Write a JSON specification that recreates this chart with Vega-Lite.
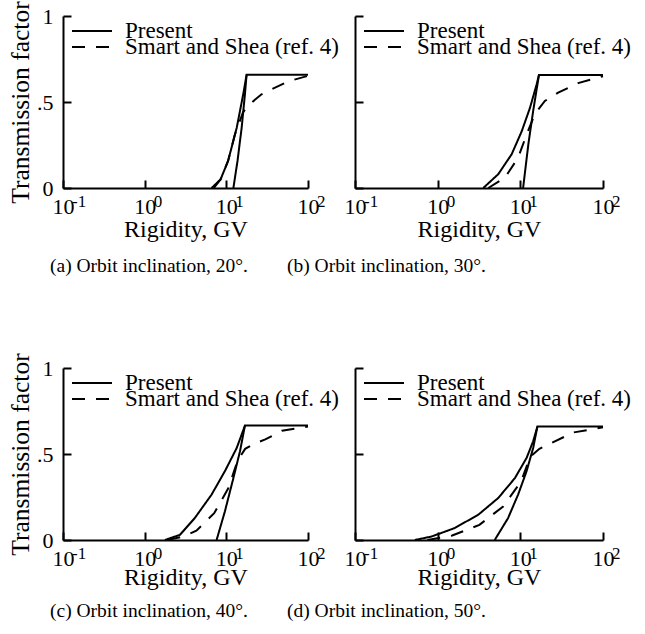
{
  "$schema": "https://vega.github.io/schema/vega-lite/v6.json",
  "padding": {"left": 8, "top": 0, "right": 0, "bottom": 0},
  "background": "white",
  "config": {
    "font": "Liberation Serif",
    "view": {"stroke": null},
    "axis": {"domainColor": "black", "domainWidth": 2, "tickColor": "black", "tickWidth": 2, "labelColor": "black", "titleColor": "black", "grid": false, "labelFont": "Liberation Serif", "titleFont": "Liberation Serif", "titleFontWeight": "normal", "labelFlush": false, "labelOverlap": false},
    "title": {"font": "Liberation Serif", "fontWeight": "normal", "fontSize": 19.5, "color": "black"},
    "legend": {"symbolType": "stroke", "symbolSize": 1600, "symbolStrokeWidth": 2, "symbolStrokeColor": "black", "labelFont": "Liberation Serif", "labelFontSize": 23, "labelColor": "black", "labelOffset": 12, "rowPadding": -12, "clipHeight": 8, "padding": 0, "labelLimit": 0}
  },
  "datasets": {
    "curves": [
      {"panel": "a", "series": "Present", "branch": "L", "rigidity": 6.6, "factor": 0},
      {"panel": "a", "series": "Present", "branch": "L", "rigidity": 8.5, "factor": 0.05},
      {"panel": "a", "series": "Present", "branch": "L", "rigidity": 10.5, "factor": 0.157},
      {"panel": "a", "series": "Present", "branch": "L", "rigidity": 13.4, "factor": 0.35},
      {"panel": "a", "series": "Present", "branch": "L", "rigidity": 16.1, "factor": 0.545},
      {"panel": "a", "series": "Present", "branch": "L", "rigidity": 17.7, "factor": 0.658},
      {"panel": "a", "series": "Present", "branch": "R", "rigidity": 12.2, "factor": 0},
      {"panel": "a", "series": "Present", "branch": "R", "rigidity": 13.7, "factor": 0.157},
      {"panel": "a", "series": "Present", "branch": "R", "rigidity": 15.4, "factor": 0.35},
      {"panel": "a", "series": "Present", "branch": "R", "rigidity": 16.9, "factor": 0.545},
      {"panel": "a", "series": "Present", "branch": "R", "rigidity": 17.7, "factor": 0.658},
      {"panel": "a", "series": "Present", "branch": "R", "rigidity": 100, "factor": 0.658},
      {"panel": "a", "series": "Smart and Shea (ref. 4)", "branch": "S", "rigidity": 7.0, "factor": 0},
      {"panel": "a", "series": "Smart and Shea (ref. 4)", "branch": "S", "rigidity": 8.5, "factor": 0.05},
      {"panel": "a", "series": "Smart and Shea (ref. 4)", "branch": "S", "rigidity": 10.5, "factor": 0.157},
      {"panel": "a", "series": "Smart and Shea (ref. 4)", "branch": "S", "rigidity": 12.7, "factor": 0.31},
      {"panel": "a", "series": "Smart and Shea (ref. 4)", "branch": "S", "rigidity": 16, "factor": 0.44},
      {"panel": "a", "series": "Smart and Shea (ref. 4)", "branch": "S", "rigidity": 18.5, "factor": 0.48},
      {"panel": "a", "series": "Smart and Shea (ref. 4)", "branch": "S", "rigidity": 27, "factor": 0.545},
      {"panel": "a", "series": "Smart and Shea (ref. 4)", "branch": "S", "rigidity": 57, "factor": 0.62},
      {"panel": "a", "series": "Smart and Shea (ref. 4)", "branch": "S", "rigidity": 100, "factor": 0.652},

      {"panel": "b", "series": "Present", "branch": "L", "rigidity": 3.56, "factor": 0},
      {"panel": "b", "series": "Present", "branch": "L", "rigidity": 5.4, "factor": 0.08},
      {"panel": "b", "series": "Present", "branch": "L", "rigidity": 7.85, "factor": 0.196},
      {"panel": "b", "series": "Present", "branch": "L", "rigidity": 10.4, "factor": 0.33},
      {"panel": "b", "series": "Present", "branch": "L", "rigidity": 13.1, "factor": 0.467},
      {"panel": "b", "series": "Present", "branch": "L", "rigidity": 15.7, "factor": 0.6},
      {"panel": "b", "series": "Present", "branch": "L", "rigidity": 16.8, "factor": 0.657},
      {"panel": "b", "series": "Present", "branch": "R", "rigidity": 10.8, "factor": 0},
      {"panel": "b", "series": "Present", "branch": "R", "rigidity": 12.5, "factor": 0.254},
      {"panel": "b", "series": "Present", "branch": "R", "rigidity": 14.3, "factor": 0.448},
      {"panel": "b", "series": "Present", "branch": "R", "rigidity": 16.8, "factor": 0.657},
      {"panel": "b", "series": "Present", "branch": "R", "rigidity": 100, "factor": 0.657},
      {"panel": "b", "series": "Smart and Shea (ref. 4)", "branch": "S", "rigidity": 4.1, "factor": 0},
      {"panel": "b", "series": "Smart and Shea (ref. 4)", "branch": "S", "rigidity": 6.5, "factor": 0.06},
      {"panel": "b", "series": "Smart and Shea (ref. 4)", "branch": "S", "rigidity": 9.4, "factor": 0.176},
      {"panel": "b", "series": "Smart and Shea (ref. 4)", "branch": "S", "rigidity": 11.9, "factor": 0.31},
      {"panel": "b", "series": "Smart and Shea (ref. 4)", "branch": "S", "rigidity": 15, "factor": 0.43},
      {"panel": "b", "series": "Smart and Shea (ref. 4)", "branch": "S", "rigidity": 19.8, "factor": 0.506},
      {"panel": "b", "series": "Smart and Shea (ref. 4)", "branch": "S", "rigidity": 28.7, "factor": 0.554},
      {"panel": "b", "series": "Smart and Shea (ref. 4)", "branch": "S", "rigidity": 50, "factor": 0.61},
      {"panel": "b", "series": "Smart and Shea (ref. 4)", "branch": "S", "rigidity": 100, "factor": 0.65},

      {"panel": "c", "series": "Present", "branch": "L", "rigidity": 1.77, "factor": 0},
      {"panel": "c", "series": "Present", "branch": "L", "rigidity": 2.7, "factor": 0.03},
      {"panel": "c", "series": "Present", "branch": "L", "rigidity": 4.1, "factor": 0.127},
      {"panel": "c", "series": "Present", "branch": "L", "rigidity": 6.6, "factor": 0.264},
      {"panel": "c", "series": "Present", "branch": "L", "rigidity": 9.6, "factor": 0.4},
      {"panel": "c", "series": "Present", "branch": "L", "rigidity": 13.4, "factor": 0.535},
      {"panel": "c", "series": "Present", "branch": "L", "rigidity": 16.9, "factor": 0.665},
      {"panel": "c", "series": "Present", "branch": "R", "rigidity": 7.6, "factor": 0},
      {"panel": "c", "series": "Present", "branch": "R", "rigidity": 9.6, "factor": 0.166},
      {"panel": "c", "series": "Present", "branch": "R", "rigidity": 12.2, "factor": 0.36},
      {"panel": "c", "series": "Present", "branch": "R", "rigidity": 14.7, "factor": 0.516},
      {"panel": "c", "series": "Present", "branch": "R", "rigidity": 16.9, "factor": 0.665},
      {"panel": "c", "series": "Present", "branch": "R", "rigidity": 100, "factor": 0.665},
      {"panel": "c", "series": "Smart and Shea (ref. 4)", "branch": "S", "rigidity": 1.9, "factor": 0},
      {"panel": "c", "series": "Smart and Shea (ref. 4)", "branch": "S", "rigidity": 3.0, "factor": 0.02},
      {"panel": "c", "series": "Smart and Shea (ref. 4)", "branch": "S", "rigidity": 4.3, "factor": 0.054},
      {"panel": "c", "series": "Smart and Shea (ref. 4)", "branch": "S", "rigidity": 7.1, "factor": 0.156},
      {"panel": "c", "series": "Smart and Shea (ref. 4)", "branch": "S", "rigidity": 10.6, "factor": 0.302},
      {"panel": "c", "series": "Smart and Shea (ref. 4)", "branch": "S", "rigidity": 13.7, "factor": 0.46},
      {"panel": "c", "series": "Smart and Shea (ref. 4)", "branch": "S", "rigidity": 17, "factor": 0.53},
      {"panel": "c", "series": "Smart and Shea (ref. 4)", "branch": "S", "rigidity": 22, "factor": 0.56},
      {"panel": "c", "series": "Smart and Shea (ref. 4)", "branch": "S", "rigidity": 30, "factor": 0.585},
      {"panel": "c", "series": "Smart and Shea (ref. 4)", "branch": "S", "rigidity": 48, "factor": 0.635},
      {"panel": "c", "series": "Smart and Shea (ref. 4)", "branch": "S", "rigidity": 100, "factor": 0.66},

      {"panel": "d", "series": "Present", "branch": "L", "rigidity": 0.53, "factor": 0},
      {"panel": "d", "series": "Present", "branch": "L", "rigidity": 0.84, "factor": 0.02},
      {"panel": "d", "series": "Present", "branch": "L", "rigidity": 1.6, "factor": 0.069},
      {"panel": "d", "series": "Present", "branch": "L", "rigidity": 3.1, "factor": 0.147},
      {"panel": "d", "series": "Present", "branch": "L", "rigidity": 5.4, "factor": 0.244},
      {"panel": "d", "series": "Present", "branch": "L", "rigidity": 8.6, "factor": 0.36},
      {"panel": "d", "series": "Present", "branch": "L", "rigidity": 11.9, "factor": 0.477},
      {"panel": "d", "series": "Present", "branch": "L", "rigidity": 14.3, "factor": 0.574},
      {"panel": "d", "series": "Present", "branch": "L", "rigidity": 16.1, "factor": 0.66},
      {"panel": "d", "series": "Present", "branch": "R", "rigidity": 4.9, "factor": 0},
      {"panel": "d", "series": "Present", "branch": "R", "rigidity": 7.1, "factor": 0.127},
      {"panel": "d", "series": "Present", "branch": "R", "rigidity": 9.4, "factor": 0.264},
      {"panel": "d", "series": "Present", "branch": "R", "rigidity": 11.9, "factor": 0.4},
      {"panel": "d", "series": "Present", "branch": "R", "rigidity": 14.3, "factor": 0.535},
      {"panel": "d", "series": "Present", "branch": "R", "rigidity": 16.1, "factor": 0.66},
      {"panel": "d", "series": "Present", "branch": "R", "rigidity": 100, "factor": 0.66},
      {"panel": "d", "series": "Smart and Shea (ref. 4)", "branch": "S", "rigidity": 0.75, "factor": 0},
      {"panel": "d", "series": "Smart and Shea (ref. 4)", "branch": "S", "rigidity": 1.5, "factor": 0.026},
      {"panel": "d", "series": "Smart and Shea (ref. 4)", "branch": "S", "rigidity": 3.2, "factor": 0.088},
      {"panel": "d", "series": "Smart and Shea (ref. 4)", "branch": "S", "rigidity": 6.2, "factor": 0.195},
      {"panel": "d", "series": "Smart and Shea (ref. 4)", "branch": "S", "rigidity": 10.2, "factor": 0.34},
      {"panel": "d", "series": "Smart and Shea (ref. 4)", "branch": "S", "rigidity": 13.2, "factor": 0.485},
      {"panel": "d", "series": "Smart and Shea (ref. 4)", "branch": "S", "rigidity": 17, "factor": 0.53},
      {"panel": "d", "series": "Smart and Shea (ref. 4)", "branch": "S", "rigidity": 22.9, "factor": 0.56},
      {"panel": "d", "series": "Smart and Shea (ref. 4)", "branch": "S", "rigidity": 43.6, "factor": 0.625},
      {"panel": "d", "series": "Smart and Shea (ref. 4)", "branch": "S", "rigidity": 100, "factor": 0.655}
    ],
    "exps": [
      {"rigidity": 0.1, "e": "-1"},
      {"rigidity": 1, "e": "0"},
      {"rigidity": 10, "e": "1"},
      {"rigidity": 100, "e": "2"}
    ]
  },
  "columns": 2,
  "spacing": {"row": 180, "column": 47},
  "bounds": "flush",
  "resolve": {"legend": {"strokeDash": "independent"}},
  "concat": [
    {
      "width": 245, "height": 172,
      "title": {"text": "(a) Orbit inclination, 20°.", "orient": "bottom", "anchor": "start", "frame": "group", "dx": -13, "offset": 16},
      "layer": [
        {
          "data": {"name": "curves"},
          "transform": [{"filter": "datum.panel == 'a'"}],
          "mark": {"type": "line", "color": "black", "strokeWidth": 2},
          "encoding": {
            "x": {"field": "rigidity", "type": "quantitative", "scale": {"type": "log", "domain": [0.1, 100], "nice": false},
                  "axis": {"values": [0.1, 1, 10, 100], "labelExpr": "'10'", "labelFontSize": 22, "labelPadding": 16, "labelDx": -3, "tickSize": -8, "title": "Rigidity, GV", "titleFontSize": 24, "titlePadding": 0}},
            "y": {"field": "factor", "type": "quantitative", "scale": {"domain": [0, 1], "nice": false},
                  "axis": {"values": [0, 0.5, 1], "labelExpr": "datum.value == 0.5 ? '.5' : datum.value == 1 ? '1' : '0'", "labelFontSize": 22, "labelPadding": 18, "tickSize": -8, "title": "Transmission factor", "titleFontSize": 25.5, "titlePadding": 3}},
            "detail": {"field": "branch"},
            "strokeDash": {"field": "series", "type": "nominal", "scale": {"domain": ["Present", "Smart and Shea (ref. 4)"], "range": [[1, 0], [13, 11]]},
                           "legend": {"title": null, "orient": "none", "legendX": 8, "legendY": 11, "clipHeight": 8, "rowPadding": -12}}
          }
        },
        {
          "data": {"name": "exps"},
          "mark": {"type": "text", "align": "left", "baseline": "top", "dx": 9, "dy": 6, "fontSize": 17, "color": "black", "font": "Liberation Serif"},
          "encoding": {
            "x": {"field": "rigidity", "type": "quantitative"},
            "y": {"datum": 0},
            "text": {"field": "e"}
          }
        }
      ]
    },
    {
      "width": 248, "height": 172,
      "title": {"text": "(b) Orbit inclination, 30°.", "orient": "bottom", "anchor": "start", "frame": "group", "dx": -68, "offset": 16},
      "layer": [
        {
          "data": {"name": "curves"},
          "transform": [{"filter": "datum.panel == 'b'"}],
          "mark": {"type": "line", "color": "black", "strokeWidth": 2},
          "encoding": {
            "x": {"field": "rigidity", "type": "quantitative", "scale": {"type": "log", "domain": [0.1, 100], "nice": false},
                  "axis": {"values": [0.1, 1, 10, 100], "labelExpr": "'10'", "labelFontSize": 22, "labelPadding": 16, "labelDx": -3, "tickSize": -8, "title": "Rigidity, GV", "titleFontSize": 24, "titlePadding": 0}},
            "y": {"field": "factor", "type": "quantitative", "scale": {"domain": [0, 1], "nice": false},
                  "axis": {"values": [0, 0.5, 1], "labels": false, "tickSize": -8, "title": null}},
            "detail": {"field": "branch"},
            "strokeDash": {"field": "series", "type": "nominal", "scale": {"domain": ["Present", "Smart and Shea (ref. 4)"], "range": [[1, 0], [13, 11]]},
                           "legend": {"title": null, "orient": "none", "legendX": 8, "legendY": 11, "clipHeight": 8, "rowPadding": -12}}
          }
        },
        {
          "data": {"name": "exps"},
          "mark": {"type": "text", "align": "left", "baseline": "top", "dx": 9, "dy": 6, "fontSize": 17, "color": "black", "font": "Liberation Serif"},
          "encoding": {
            "x": {"field": "rigidity", "type": "quantitative"},
            "y": {"datum": 0},
            "text": {"field": "e"}
          }
        }
      ]
    },
    {
      "width": 245, "height": 172,
      "title": {"text": "(c) Orbit inclination, 40°.", "orient": "bottom", "anchor": "start", "frame": "group", "dx": -13, "offset": 13},
      "layer": [
        {
          "data": {"name": "curves"},
          "transform": [{"filter": "datum.panel == 'c'"}],
          "mark": {"type": "line", "color": "black", "strokeWidth": 2},
          "encoding": {
            "x": {"field": "rigidity", "type": "quantitative", "scale": {"type": "log", "domain": [0.1, 100], "nice": false},
                  "axis": {"values": [0.1, 1, 10, 100], "labelExpr": "'10'", "labelFontSize": 22, "labelPadding": 16, "labelDx": -3, "tickSize": -8, "title": "Rigidity, GV", "titleFontSize": 24, "titlePadding": -4}},
            "y": {"field": "factor", "type": "quantitative", "scale": {"domain": [0, 1], "nice": false},
                  "axis": {"values": [0, 0.5, 1], "labelExpr": "datum.value == 0.5 ? '.5' : datum.value == 1 ? '1' : '0'", "labelFontSize": 22, "labelPadding": 18, "tickSize": -8, "title": "Transmission factor", "titleFontSize": 25.5, "titlePadding": 3}},
            "detail": {"field": "branch"},
            "strokeDash": {"field": "series", "type": "nominal", "scale": {"domain": ["Present", "Smart and Shea (ref. 4)"], "range": [[1, 0], [13, 11]]},
                           "legend": {"title": null, "orient": "none", "legendX": 8, "legendY": 11, "clipHeight": 8, "rowPadding": -12}}
          }
        },
        {
          "data": {"name": "exps"},
          "mark": {"type": "text", "align": "left", "baseline": "top", "dx": 9, "dy": 6, "fontSize": 17, "color": "black", "font": "Liberation Serif"},
          "encoding": {
            "x": {"field": "rigidity", "type": "quantitative"},
            "y": {"datum": 0},
            "text": {"field": "e"}
          }
        }
      ]
    },
    {
      "width": 248, "height": 172,
      "title": {"text": "(d) Orbit inclination, 50°.", "orient": "bottom", "anchor": "start", "frame": "group", "dx": -68, "offset": 13},
      "layer": [
        {
          "data": {"name": "curves"},
          "transform": [{"filter": "datum.panel == 'd'"}],
          "mark": {"type": "line", "color": "black", "strokeWidth": 2},
          "encoding": {
            "x": {"field": "rigidity", "type": "quantitative", "scale": {"type": "log", "domain": [0.1, 100], "nice": false},
                  "axis": {"values": [0.1, 1, 10, 100], "labelExpr": "'10'", "labelFontSize": 22, "labelPadding": 16, "labelDx": -3, "tickSize": -8, "title": "Rigidity, GV", "titleFontSize": 24, "titlePadding": -4}},
            "y": {"field": "factor", "type": "quantitative", "scale": {"domain": [0, 1], "nice": false},
                  "axis": {"values": [0, 0.5, 1], "labels": false, "tickSize": -8, "title": null}},
            "detail": {"field": "branch"},
            "strokeDash": {"field": "series", "type": "nominal", "scale": {"domain": ["Present", "Smart and Shea (ref. 4)"], "range": [[1, 0], [13, 11]]},
                           "legend": {"title": null, "orient": "none", "legendX": 8, "legendY": 11, "clipHeight": 8, "rowPadding": -12}}
          }
        },
        {
          "data": {"name": "exps"},
          "mark": {"type": "text", "align": "left", "baseline": "top", "dx": 9, "dy": 6, "fontSize": 17, "color": "black", "font": "Liberation Serif"},
          "encoding": {
            "x": {"field": "rigidity", "type": "quantitative"},
            "y": {"datum": 0},
            "text": {"field": "e"}
          }
        }
      ]
    }
  ]
}
